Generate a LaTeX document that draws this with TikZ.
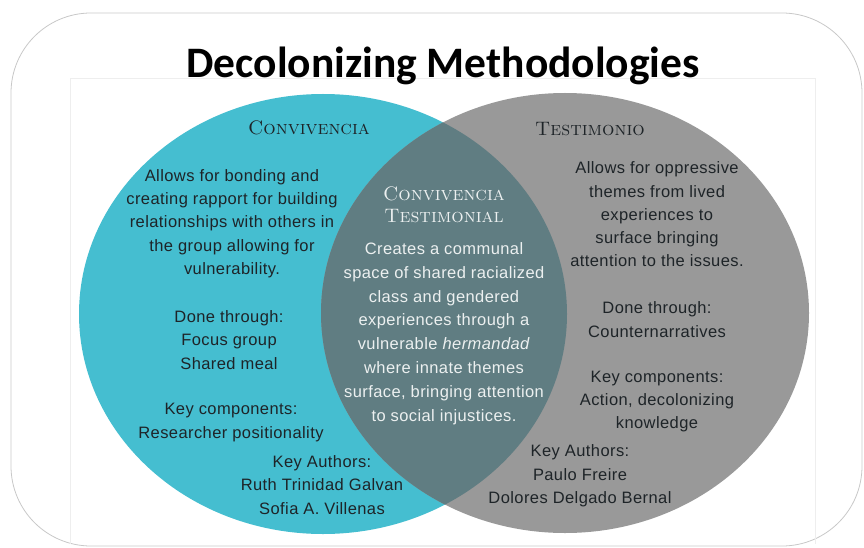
\documentclass[tikz,border=0pt]{standalone}
\usepackage{fontspec}
\newfontfamily\bodyfont[LetterSpace=2.5]{Liberation Sans}
\newfontfamily\titlefont{Carlito}
\usetikzlibrary{positioning}

\definecolor{convteal}{RGB}{69,190,208}
\definecolor{testgray}{RGB}{153,153,153}
\definecolor{lensslate}{RGB}{96,125,130}
\definecolor{inkdark}{RGB}{30,36,40}
\definecolor{inklight}{RGB}{236,240,240}
\definecolor{framegray}{RGB}{200,200,200}
\definecolor{edgegray}{RGB}{238,238,238}

\begin{document}
\begin{tikzpicture}[x=1pt,y=-1pt,
    body/.style={align=center, inner sep=0pt, text=inkdark,
      font=\bodyfont\fontsize{16.5}{23.3}\selectfont},
    lensbody/.style={body, text=inklight,
      font=\bodyfont\fontsize{16.5}{23.8}\selectfont},
    head/.style={align=center, inner sep=0pt, text=inkdark,
      font=\fontsize{19.5}{22}\selectfont\scshape}]
\useasboundingbox (0,0) rectangle (864,548);

% frame and pasted image edge
\draw[framegray, line width=0.8pt, rounded corners=80pt] (11,13) rectangle (862,546);
\draw[edgegray, line width=0.6pt] (70,544) -- (70,78) -- (815,78) -- (815,544);

% the two sets and their overlap
\fill[convteal] (323,314) ellipse [x radius=244pt, y radius=220pt];
\fill[testgray] (565,313) ellipse [x radius=244pt, y radius=220pt];
\begin{scope}
  \clip (323,314) ellipse [x radius=244pt, y radius=220pt];
  \fill[lensslate] (565,313) ellipse [x radius=244pt, y radius=220pt];
\end{scope}

\node[anchor=base, font=\titlefont\bfseries\fontsize{43.5}{48}\selectfont] (title) at (443,78) {Decolonizing Methodologies};

% left: convivencia
\node[head] (hconv) at (309,128) {Convivencia};
\node[body] (convdesc) at (232,223.5) {Allows for bonding and\\creating rapport for building\\relationships with others in\\the group allowing for\\vulnerability.};
\node[body] (convdone) at (229,340) {Done through:\\Focus group\\Shared meal};
\node[body] (convkey) at (231,422.5) {Key components:\\Researcher positionality};
\node[body] (convauth) at (322,485) {Key Authors:\\Ruth Trinidad Galvan\\Sofia A. Villenas};

% overlap: convivencia testimonial
\node[head, text=inklight] (hlens) at (444,204.5) {Convivencia\\Testimonial};
\node[lensbody] (lensdesc) at (444,333.5) {Creates a communal\\space of shared racialized\\class and gendered\\experiences through a\\vulnerable \textit{hermandad}\\where innate themes\\surface, bringing attention\\to social injustices.};

% right: testimonio
\node[head] (htest) at (590,129) {Testimonio};
\node[body] (testdesc) at (657,214.5) {Allows for oppressive\\themes from lived\\experiences to\\surface bringing\\attention to the issues.};
\node[body] (testdone) at (657,319.5) {Done through:\\Counternarratives};
\node[body] (testkey) at (657,401.5) {Key components:\\Action, decolonizing\\knowledge};
\node[body] (testauth) at (580,476) {Key Authors:\\Paulo Freire\\Dolores Delgado Bernal};
\end{tikzpicture}
\end{document}
